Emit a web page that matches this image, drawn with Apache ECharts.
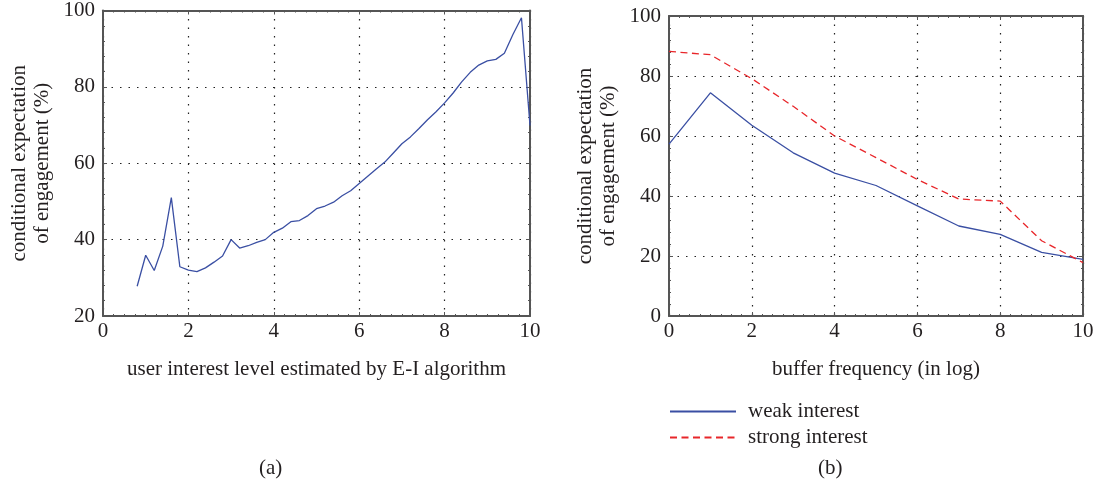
<!DOCTYPE html>
<html>
<head>
<meta charset="utf-8">
<script src="https://cdn.jsdelivr.net/npm/echarts@6/dist/echarts.min.js"></script>
<style>
html,body{margin:0;padding:0;background:#fff;}
#chart{width:1100px;height:487px;}
</style>
</head>
<body>
<div id="chart"></div>
<script>
// ---- Data ----
var leftX = [0.8, 1.0, 1.2, 1.4, 1.6, 1.8, 2.0, 2.2, 2.4, 2.6, 2.8, 3.0, 3.2, 3.4, 3.6, 3.8,
  4.0, 4.2, 4.4, 4.6, 4.8, 5.0, 5.2, 5.4, 5.6, 5.8, 6.0, 6.2, 6.4, 6.6, 6.8, 7.0, 7.2,
  7.4, 7.6, 7.8, 8.0, 8.2, 8.4, 8.6, 8.8, 9.0, 9.2, 9.4, 9.6, 9.8, 10.0];
var leftY = [27.8, 35.9, 31.9, 38.3, 51.0, 32.9, 32.0, 31.6, 32.6, 34.1, 35.7, 40.0, 37.8,
  38.4, 39.3, 40.0, 41.9, 43.0, 44.7, 45.0, 46.3, 48.1, 48.8, 49.8, 51.5, 52.8, 54.7,
  56.6, 58.5, 60.3, 62.7, 65.1, 66.9, 69.1, 71.4, 73.5, 75.8, 78.4, 81.3, 83.8, 85.7,
  86.8, 87.2, 88.8, 93.7, 98.1, 69.9];
var rightX = [0, 1, 2, 3, 4, 5, 6, 7, 8, 9, 10];
var weakInterest = [57.3, 74.4, 63.6, 54.4, 47.6, 43.5, 36.7, 30.0, 27.2, 21.2, 18.9];
var strongInterest = [88.2, 87.1, 79.1, 69.9, 60.0, 52.8, 45.5, 39.0, 38.3, 25.1, 17.8];
var seriesNames = ['weak interest', 'strong interest'];
var leftXName = 'user interest level estimated by E-I algorithm';
var rightXName = 'buffer frequency (in log)';
var yName = 'conditional expectation\nof engagement (%)';
var panelLabels = ['(a)', '(b)'];

function pairs(xs, ys) { return xs.map(function (x, i) { return [x, ys[i]]; }); }

var FONT = 'Liberation Serif';
var FS = 21;
var TXT = '#231f20';
var AXC = '#555';

function mainX(grid, name) {
  return {
    type: 'value', gridIndex: grid, min: 0, max: 10, interval: 2, position: 'bottom',
    name: name, nameLocation: 'middle', nameGap: 43,
    nameTextStyle: { fontFamily: FONT, fontSize: FS, color: TXT },
    axisLine: { show: true, onZero: false, lineStyle: { color: AXC, width: 2 } },
    axisTick: { show: true, inside: true, length: 4, lineStyle: { color: AXC } },
    minorTick: { show: true, splitNumber: 8, length: 2, lineStyle: { color: AXC } },
    axisLabel: { fontFamily: FONT, fontSize: FS, color: TXT, margin: 5 },
    splitLine: { show: true, lineStyle: { color: '#222', width: 1.2, type: [1.5, 7] } }
  };
}
function decorX(grid) {
  return {
    type: 'value', gridIndex: grid, min: 0, max: 10, interval: 2, position: 'top',
    axisLine: { show: true, onZero: false, lineStyle: { color: AXC, width: 2 } },
    axisTick: { show: true, inside: true, length: 4, lineStyle: { color: AXC } },
    minorTick: { show: true, splitNumber: 8, length: 2, lineStyle: { color: AXC } },
    axisLabel: { show: false }, splitLine: { show: false }
  };
}
function mainY(grid, min) {
  return {
    type: 'value', gridIndex: grid, min: min, max: 100, interval: 20, position: 'left',
    name: yName, nameLocation: 'middle', nameGap: 49, nameRotate: 90,
    nameTextStyle: { fontFamily: FONT, fontSize: FS, color: TXT, lineHeight: 23 },
    axisLine: { show: true, onZero: false, lineStyle: { color: AXC, width: 2 } },
    axisTick: { show: true, inside: true, length: 4, lineStyle: { color: AXC } },
    minorTick: { show: true, splitNumber: 5, length: 2, lineStyle: { color: AXC } },
    axisLabel: { fontFamily: FONT, fontSize: FS, color: TXT, margin: 8 },
    splitLine: { show: true, lineStyle: { color: '#222', width: 1.2, type: [1.5, 7] } }
  };
}
function decorY(grid, min) {
  return {
    type: 'value', gridIndex: grid, min: min, max: 100, interval: 20, position: 'right',
    axisLine: { show: true, onZero: false, lineStyle: { color: AXC, width: 2 } },
    axisTick: { show: true, inside: true, length: 4, lineStyle: { color: AXC } },
    minorTick: { show: true, splitNumber: 5, length: 2, lineStyle: { color: AXC } },
    axisLabel: { show: false }, splitLine: { show: false }
  };
}

var chart = echarts.init(document.getElementById('chart'), null, { renderer: 'canvas' });
chart.setOption({
  animation: false,
  backgroundColor: '#fff',
  textStyle: { fontFamily: FONT },
  grid: [
    { left: 103, right: 570, top: 10, bottom: 171 },
    { left: 669, right: 17, top: 16, bottom: 171 }
  ],
  xAxis: [mainX(0, leftXName), decorX(0), mainX(1, rightXName), decorX(1)],
  yAxis: [mainY(0, 20), decorY(0, 20), mainY(1, 0), decorY(1, 0)],
  legend: {
    orient: 'vertical', left: 664, top: 396, itemWidth: 66, itemHeight: 12, itemGap: 5,
    data: seriesNames,
    itemStyle: { opacity: 0 },
    textStyle: { fontFamily: FONT, fontSize: FS, color: TXT, padding: [0, 0, 0, 7] }
  },
  graphic: [
    { type: 'text', left: 259, top: 458, style: { text: panelLabels[0], font: '21px "Liberation Serif"', fill: TXT } },
    { type: 'text', left: 818, top: 458, style: { text: panelLabels[1], font: '21px "Liberation Serif"', fill: TXT } }
  ],
  series: [
    { type: 'line', name: 'left', xAxisIndex: 0, yAxisIndex: 0, data: pairs(leftX, leftY),
      symbol: 'none', lineStyle: { color: '#3a4fa3', width: 1.3 }, itemStyle: { color: '#3a4fa3' } },
    { type: 'line', name: seriesNames[0], xAxisIndex: 2, yAxisIndex: 2, data: pairs(rightX, weakInterest),
      symbol: 'none', lineStyle: { color: '#3a4fa3', width: 1.3 }, itemStyle: { color: '#3a4fa3' } },
    { type: 'line', name: seriesNames[1], xAxisIndex: 2, yAxisIndex: 2, data: pairs(rightX, strongInterest),
      symbol: 'none', lineStyle: { color: '#e8262a', width: 1.3, type: [7, 4.5] }, itemStyle: { color: '#e8262a' } }
  ]
});
</script>
</body>
</html>
